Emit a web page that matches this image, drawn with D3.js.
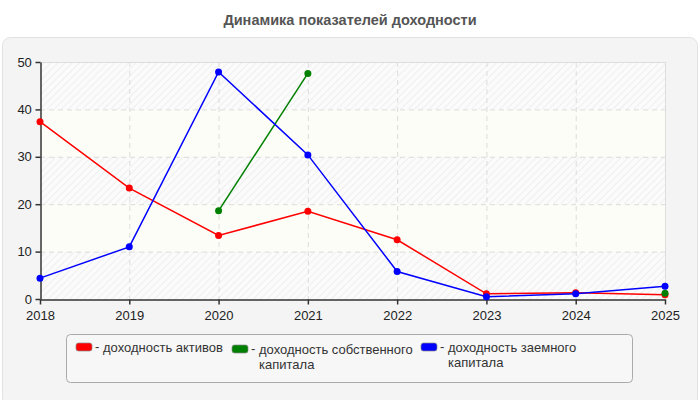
<!DOCTYPE html>
<html><head><meta charset="utf-8">
<script src="https://cdn.jsdelivr.net/npm/d3@7"></script>
<style>body{margin:0;background:#fff;font-family:"Liberation Sans",Arial,sans-serif;}</style>
</head><body><svg id="c" width="700" height="400"></svg>
<script>
const years = [2018, 2019, 2020, 2021, 2022, 2023, 2024, 2025];
const assetsReturn = [37.4, 23.4, 13.4, 18.5, 12.5, 1.1, 1.3, 0.9];
const equityReturn = [null, null, 18.6, 47.6, null, null, null, 1.2];
const debtReturn = [4.4, 11.0, 47.9, 30.4, 5.8, 0.5, 1.1, 2.7];
const seriesNames = ["доходность активов", "доходность собственного капитала", "доходность заемного капитала"];
const seriesColors = ["#ff0000", "#008000", "#0000ff"];
const yTicks = [0, 10, 20, 30, 40, 50];
const title = "Динамика показателей доходности";

const svg = d3.select("#c");
const defs = svg.append("defs");
const pat = defs.append("pattern").attr("id","hatch").attr("patternUnits","userSpaceOnUse")
  .attr("width",5).attr("height",5).attr("patternTransform","rotate(45)");
pat.append("rect").attr("width",5).attr("height",5).attr("fill","#fbfbfb");
pat.append("line").attr("x1",0).attr("y1",0).attr("x2",0).attr("y2",5).attr("stroke","#efefef").attr("stroke-width",2);

svg.append("text").attr("x",350).attr("y",25).attr("text-anchor","middle")
  .attr("font-size",14.5).attr("font-weight","bold").attr("fill","#555").text(title);

svg.append("rect").attr("x",2.5).attr("y",37.5).attr("width",695).attr("height",370).attr("rx",8)
  .attr("fill","#f4f4f4").attr("stroke","#e2e2e2");

const L=40,R=665,T=62,B=299;
const x = d3.scaleLinear().domain([2018,2025]).range([L,R]);
const y = d3.scaleLinear().domain([0,50]).range([B,T]);

for (let i=0;i<yTicks.length-1;i++){
  svg.append("rect").attr("x",L).attr("width",R-L)
    .attr("y",y(yTicks[i+1])).attr("height",y(yTicks[i])-y(yTicks[i+1]))
    .attr("fill", i%2===0 ? "url(#hatch)" : "#fdfdf7");
}
const g = svg.append("g");
g.selectAll(".hg").data(yTicks.slice(1,-1)).join("line")
  .attr("x1",L).attr("x2",R).attr("y1",d=>y(d)+0.5).attr("y2",d=>y(d)+0.5)
  .attr("stroke","#dcdcdc").attr("stroke-dasharray","5,4");
g.selectAll(".vg").data(years.slice(1,-1)).join("line")
  .attr("y1",T).attr("y2",B).attr("x1",d=>x(d)+0.5).attr("x2",d=>x(d)+0.5)
  .attr("stroke","#dcdcdc").attr("stroke-dasharray","5,4");
svg.append("line").attr("x1",L).attr("x2",R).attr("y1",T+0.5).attr("y2",T+0.5).attr("stroke","#dddddd");
svg.append("line").attr("x1",R+0.5).attr("x2",R+0.5).attr("y1",T).attr("y2",B).attr("stroke","#dddddd");

const xa = svg.append("g").attr("transform",`translate(0,${B+0.5})`)
  .call(d3.axisBottom(x).tickValues(years).tickFormat(d3.format("d")).tickSize(5).tickSizeOuter(0));
const ya = svg.append("g").attr("transform",`translate(${L+0.5},0)`)
  .call(d3.axisLeft(y).tickValues(yTicks).tickSize(5).tickSizeOuter(0));
[xa,ya].forEach(a=>{
  a.select(".domain").attr("stroke","#333").attr("stroke-width",1.5);
  a.selectAll(".tick line").attr("stroke","#333").attr("stroke-width",1.5);
  a.selectAll("text").attr("font-size",13).attr("fill","#222").attr("font-family","'Liberation Sans',Arial,sans-serif");
});
xa.selectAll("text").attr("dy","0.95em");
ya.selectAll("text").attr("dx","-0.05em");

const allSeries = [assetsReturn, equityReturn, debtReturn];
const line = d3.line().defined(d=>d.v!=null).x(d=>x(d.yr)).y(d=>y(d.v));
allSeries.forEach((vals,i)=>{
  const data = years.map((yr,j)=>({yr, v: vals[j]}));
  svg.append("path").datum(data).attr("d",line).attr("fill","none")
    .attr("stroke",seriesColors[i]).attr("stroke-width",1.5);
  svg.selectAll(".pt"+i).data(data.filter(d=>d.v!=null)).join("circle")
    .attr("cx",d=>x(d.yr)).attr("cy",d=>y(d.v)).attr("r",3.5).attr("fill",seriesColors[i]);
});

svg.append("rect").attr("x",66.5).attr("y",334.5).attr("width",566).attr("height",48).attr("rx",4)
  .attr("fill","#f7f7f7").attr("stroke","#aaaaaa");
const legX = [76, 232, 421];
const legY = [343, 345, 343];
const legLines = [["доходность активов"],["доходность собственного","капитала"],["доходность заемного","капитала"]];
legLines.forEach((ls,i)=>{
  svg.append("rect").attr("x",legX[i]).attr("y",legY[i]).attr("width",16).attr("height",8).attr("rx",2.5)
    .attr("fill",seriesColors[i]).attr("stroke","#888").attr("stroke-width",0.7);
  svg.append("text").attr("x",legX[i]+19).attr("y",legY[i]+8).attr("font-size",13).attr("fill","#333").text("-");
  ls.forEach((s,k)=>{
    svg.append("text").attr("x",legX[i]+27).attr("y",legY[i]+9+k*15).attr("font-size",13).attr("fill","#333").text(s);
  });
});
</script></body></html>
